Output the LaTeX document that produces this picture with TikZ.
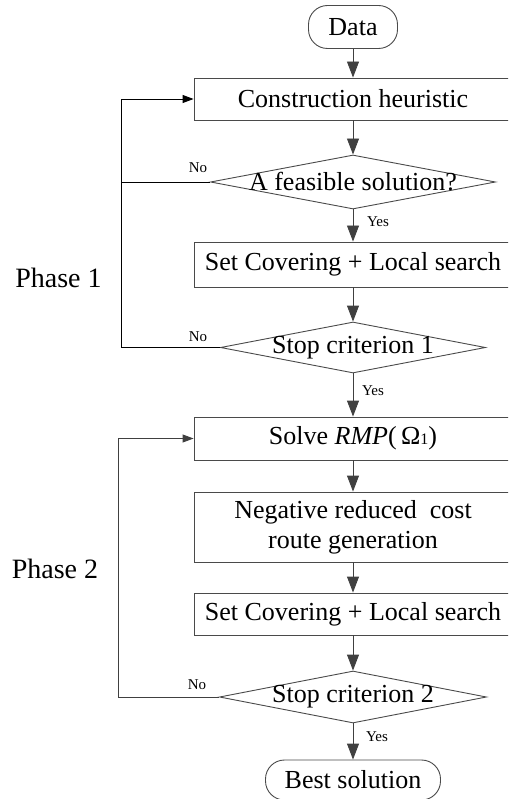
\documentclass[tikz,border=0pt]{standalone}
\usepackage{fontspec}
\setmainfont{Liberation Serif}
\usetikzlibrary{arrows.meta,shapes.geometric}
\definecolor{boxc}{HTML}{4A4A4A}
\definecolor{linec}{HTML}{404040}
\begin{document}
\begin{tikzpicture}[x=1pt,y=-1pt,
  txt/.style={font=\fontsize{26}{30}\selectfont},
  box/.style={txt, draw=boxc, line width=0.9pt, minimum width=318pt, inner sep=0pt, align=center},
  term/.style={txt, draw=boxc, line width=0.9pt, rounded corners=19pt, inner sep=0pt},
  dec/.style={draw=boxc, line width=0.9pt, diamond, inner sep=0pt},
  flow/.style={draw=linec, line width=0.9pt, -{Triangle[length=16pt,width=12pt]}},
  back/.style={line width=0.9pt, -{Triangle[length=11pt,width=8pt]}},
  plain/.style={line width=0.9pt},
  lab/.style={font=\fontsize{15}{15}\selectfont, inner sep=0pt},
  phase/.style={font=\fontsize{28}{30}\selectfont, inner sep=0pt},
]
\clip (0,0) rectangle (508,799);

\node[term, minimum width=89pt, minimum height=43pt] (data) at (353,27) {Data};
\node[box, minimum height=42pt] (b1) at (353,99) {Construction heuristic};
\node[dec, minimum width=285pt, minimum height=54pt, label={[txt]center:A feasible solution?}] (d1) at (353,182) {};
\node[box, minimum height=45pt] (b2) at (353,264.5) {Set Covering + Local search};
\node[dec, minimum width=265pt, minimum height=51pt, label={[txt]center:Stop criterion 1}] (d2) at (353,347.5) {};
\node[box, minimum height=43pt] (b3) at (353,438.5) {Solve \textit{RMP}(\,Ω{\fontsize{16}{16}\selectfont 1})};
\node[box, minimum height=70pt] (b4) at (353,527) {Negative reduced\ \ cost\\route generation};
\node[box, minimum height=42pt] (b5) at (353,614) {Set Covering + Local search};
\node[dec, minimum width=267pt, minimum height=52pt, label={[txt]center:Stop criterion 2}] (d3) at (353,697) {};
\node[term, minimum width=175pt, minimum height=40pt] (best) at (353,780) {Best solution};

\node[phase] (p1) at (58.5,278) {Phase 1};
\node[phase] (p2) at (55,569) {Phase 2};

\draw[flow] (data) -- (b1);
\draw[flow] (b1) -- (d1);
\draw[flow] (d1) -- (b2);
\draw[flow] (b2) -- (d2);
\draw[flow] (d2) -- (b3);
\draw[flow] (b3) -- (b4);
\draw[flow] (b4) -- (b5);
\draw[flow] (b5) -- (d3);
\draw[flow] (d3) -- (best);

\coordinate (c1) at (121,182);
\coordinate (c3) at (118,697);
\draw[back, black] (d1.west) -- (c1) |- (b1.west);
\draw[plain, black] (d2.west) -| (c1);
\draw[back, linec] (d3.west) -- (c3) |- (b3.west);

\node[lab] (n1) at (198,168) {No};
\node[lab] (n2) at (198,337) {No};
\node[lab] (n3) at (197,685) {No};
\node[lab] (y1) at (378,222) {Yes};
\node[lab] (y2) at (373,391) {Yes};
\node[lab] (y3) at (377,737) {Yes};
\end{tikzpicture}
\end{document}
